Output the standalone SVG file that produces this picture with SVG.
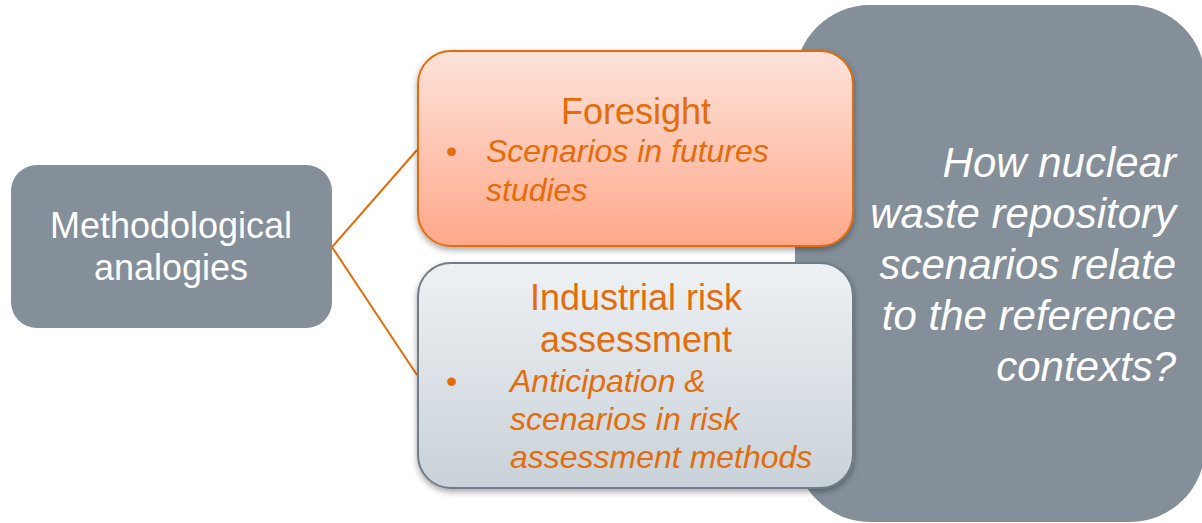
<svg xmlns="http://www.w3.org/2000/svg" width="1202" height="523" viewBox="0 0 1202 523">
<defs>
<linearGradient id="gOrange" x1="0" y1="0" x2="0" y2="1">
<stop offset="0" stop-color="#fde3da"/>
<stop offset="1" stop-color="#ffa88a"/>
</linearGradient>
<linearGradient id="gGray" x1="0" y1="0" x2="0" y2="1">
<stop offset="0" stop-color="#eef1f4"/>
<stop offset="1" stop-color="#c9d2d9"/>
</linearGradient>
<filter id="sh" x="-10%" y="-10%" width="120%" height="130%">
<feDropShadow dx="0" dy="3" stdDeviation="3" flood-color="#000" flood-opacity="0.35"/>
</filter>
<style>
text{font-family:"Liberation Sans",Arial,sans-serif}
.w{fill:#ffffff}
.o{fill:#e46c0a}
.head{font-size:36px;text-anchor:middle}
.bul{font-size:32px;font-style:italic}
.q{font-size:42px;font-style:italic;text-anchor:end}
.conn{stroke:#e46c0a;stroke-width:2;fill:none}
</style>
</defs>
<rect width="1202" height="523" fill="#ffffff"/>
<g id="question">
<rect x="795" y="5" width="410" height="517" rx="75" ry="75" fill="#848f99"/>
<text class="q w" x="1176" y="177">How nuclear</text>
<text class="q w" x="1176" y="228">waste repository</text>
<text class="q w" x="1176" y="279">scenarios relate</text>
<text class="q w" x="1176" y="330">to the reference</text>
<text class="q w" x="1176" y="381">contexts?</text>
</g>
<g id="connectors">
<polyline class="conn" points="417,150 332,247 417,375"/>
</g>
<g id="methodological">
<rect x="11" y="165" width="321" height="163" rx="26" ry="26" fill="#848f99"/>
<text class="head w" x="171" y="238">Methodological</text>
<text class="head w" x="171" y="280">analogies</text>
</g>
<g id="foresight">
<rect x="418" y="51" width="435" height="195" rx="33" ry="33" fill="url(#gOrange)" stroke="#e46c0a" stroke-width="2" filter="url(#sh)"/>
<text class="head o" x="636" y="124">Foresight</text>
<text class="o" x="446" y="162" style="font-size:32px">•</text>
<text class="bul o" x="486" y="162">Scenarios in futures</text>
<text class="bul o" x="486" y="201">studies</text>
</g>
<g id="industrial">
<rect x="418" y="263" width="435" height="225" rx="33" ry="33" fill="url(#gGray)" stroke="#6f7c87" stroke-width="2" filter="url(#sh)"/>
<text class="head o" x="636" y="310">Industrial risk</text>
<text class="head o" x="636" y="352">assessment</text>
<text class="o" x="446" y="392" style="font-size:32px">•</text>
<text class="bul o" x="510" y="392">Anticipation &amp;</text>
<text class="bul o" x="510" y="430">scenarios in risk</text>
<text class="bul o" x="510" y="468">assessment methods</text>
</g>
</svg>
